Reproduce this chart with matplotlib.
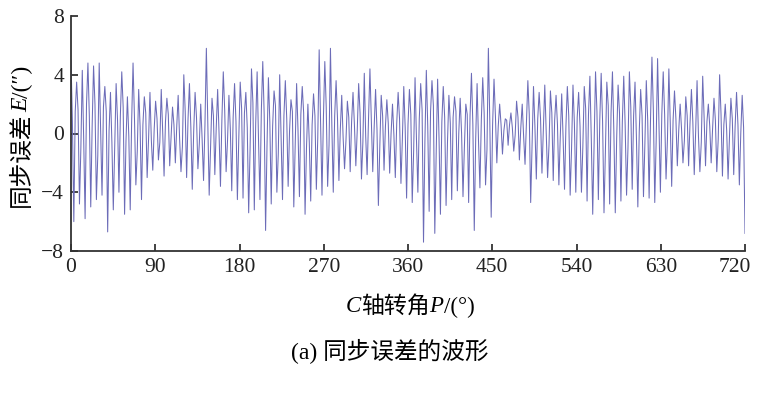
import numpy as np
import matplotlib
matplotlib.use("Agg")
import matplotlib.pyplot as plt
from matplotlib.transforms import ScaledTranslation

# peaks / troughs of each oscillation cycle, 8 segments of 90 deg
highs = [
    5.0, 3.5, 4.3, 4.8, 4.6, 4.8, 3.2, 2.8, 3.4, 4.2, 2.5, 4.8, 3.0, 2.5, 2.8,
    2.2, 3.0, 2.4, 1.8, 2.6, 4.0, 3.4, 2.8, 2.0, 5.8, 2.4, 3.0, 4.2, 2.6, 3.4,
    3.5, 2.8, 4.4, 4.2, 4.9, 3.8, 2.9, 4.0, 3.6, 2.3, 3.4, 3.2, 2.0, 2.7, 5.7,
    4.9, 5.8, 3.6, 2.6, 2.2, 2.8, 3.4, 4.1, 4.4, 3.0, 2.6, 2.3, 2.0, 2.8, 3.2,
    3.0, 3.8, 3.4, 4.3, 3.6, 3.7, 3.2, 2.6, 2.5, 2.4, 2.0, 4.1, 3.4, 3.8, 5.8,
    3.7, 2.0, 1.0, 1.4, 2.2, 2.0, 3.6, 3.2, 2.8, 3.3, 2.9, 2.6, 2.7, 3.2, 3.3,
    2.8, 3.2, 3.9, 4.2, 4.1, 3.5, 4.2, 3.3, 3.9, 4.2, 3.5, 3.0, 3.6, 5.2, 5.1,
    4.2, 4.4, 2.9, 2.0, 2.5, 3.0, 3.6, 3.9, 2.0, 2.4, 4.0, 2.0, 2.4, 2.8, 2.6,
]
lows = [
    -6.0, -4.8, -5.8, -5.0, -4.5, -4.2, -6.7, -5.2, -4.0, -5.5, -5.2, -3.5, -4.5, -3.0, -2.5,
    -1.8, -2.9, -2.2, -2.0, -2.6, -3.0, -3.8, -2.4, -3.2, -4.2, -2.8, -3.6, -2.6, -3.9, -4.5,
    -4.4, -5.4, -5.2, -4.5, -6.6, -4.8, -4.0, -4.5, -3.6, -5.0, -4.3, -5.5, -4.6, -3.8, -4.2,
    -3.6, -4.0, -3.2, -2.4, -2.6, -2.2, -3.1, -2.8, -2.6, -4.9, -2.5, -2.7, -3.0, -3.4, -4.4,
    -4.7, -4.0, -7.4, -5.3, -6.8, -5.5, -4.9, -4.5, -3.9, -4.3, -4.7, -6.6, -3.7, -3.5, -5.7,
    -2.0, -1.4, -0.8, -1.2, -1.8, -2.1, -4.7, -3.1, -2.7, -3.0, -3.2, -3.5, -3.8, -4.2, -4.0,
    -4.0, -4.6, -5.5, -4.5, -5.4, -4.8, -5.4, -4.6, -4.2, -3.8, -5.0, -4.3, -4.4, -4.7, -4.0,
    -3.1, -3.6, -2.2, -2.0, -2.2, -2.8, -2.6, -2.2, -2.0, -2.6, -2.9, -3.1, -2.8, -3.5, -6.8,
]
# small wiggle between a peak and the following trough
mids_down = [
    0.8, 1.6, -0.4, 1.2, 2.0, 0.3, 1.5, -0.6, 0.9, 1.8, -0.2, 1.1, 0.5, 1.4, -0.5,
    1.0, 0.2, 1.3, 0.6, -0.3, 1.5, 0.4, 1.1, -0.4, 0.9, 1.2, 0.0, 1.6, 0.3, 0.8,
    1.7, 0.4, 2.1, -0.5, 1.3, 0.8, 1.9, -0.2, 1.0, 1.5, 0.2, 1.4, -0.6, 1.2, 0.6,
    1.8, 0.5, 1.0, -0.3, 1.1, 0.6, 1.4, -0.2, 0.9, 0.3, 1.2, 0.7, -0.1, 1.0, 0.4,
    1.3, -0.4, 1.6, 0.5, 1.9, -0.3, 1.1, 0.7, 1.5, 0.0, 1.3, 0.6, -0.5, 1.4, 0.9,
    1.2, 0.6, 0.9, 0.4, 1.1, -0.2, 1.3, 0.5, 1.0, 0.2, 1.4, 0.6, -0.3, 1.2, 0.7,
    0.5, 1.7, -0.4, 1.5, 0.8, 1.9, 0.1, 1.4, 0.6, 1.8, -0.3, 1.2, 0.9, 1.6, 0.4,
    1.3, 0.7, 1.0, 0.3, 1.2, 0.8, -0.2, 1.1, 0.5, 0.9, 1.3, 0.2, 1.0, 0.6, 0.4,
]
# small rebound between a trough and the next peak
mids_up = [
    1.5, -1.0, 2.0, 0.5, -1.5, 1.8, 0.2, -0.8, 1.2, -0.5, 0.8, -1.2, 0.6, -0.4, 0.3,
    -0.6, 0.8, -0.2, 0.5, -0.9, 1.0, 0.1, -0.7, 0.6, -1.0, 0.4, 0.9, -0.5, 1.1, -0.3,
    1.4, -1.1, 0.7, 1.6, -0.9, 0.5, -1.4, 1.2, 0.2, -0.8, 1.3, -1.0, 0.6, -0.3, 1.0,
    -0.8, 1.2, 0.3, -0.5, 0.8, 0.2, -0.6, 1.0, 0.4, -0.9, 0.5, 0.0, 0.7, -0.4, 0.6,
    -1.2, 1.0, -0.5, 1.5, -1.3, 0.8, -0.6, 1.1, 0.0, -0.9, 1.2, -0.4, 0.9, -1.1, 0.6,
    0.5, 0.2, 0.6, -0.1, 0.4, 0.8, -0.6, 1.0, 0.3, -0.8, 0.9, -0.2, 0.5, -1.0, 1.1,
    -0.9, 1.3, -0.5, 0.9, -1.2, 1.4, -0.3, 0.8, -1.0, 1.2, 0.1, -0.7, 1.0, -0.5, 1.3,
    -0.4, 0.9, 0.2, -0.5, 0.7, 0.1, -0.6, 0.8, 0.3, -0.4, 0.6, -0.2, 0.5, 0.0, 0.4,
]
xticks = [0, 90, 180, 270, 360, 450, 540, 630, 720]
yticks = [-8, -4, 0, 4, 8]
ytick_labels = ['\u22128', '\u22124', '0', '4', '8']

# (text, italic?) pieces of the labels
ylabel_parts = [('同步误差', False), ('E', True), ('/(″)', False)]
xlabel_parts = [('C', True), ('轴转角', False), ('P', True), ('/(°)', False)]
caption = '(a) 同步误差的波形'

# one cycle = peak, wiggle, trough, rebound; last rebound dropped so the trace ends on the trough
err = np.column_stack([highs, mids_down, lows, mids_up]).ravel()[:-1]
angle = np.linspace(0, 720, len(err))

plt.rcParams['font.family'] = ['Liberation Serif', 'Noto Sans CJK SC']

W, H = 758, 398
fig = plt.figure(figsize=(W / 100, H / 100), dpi=100)
ax = fig.add_axes([71 / W, 1 - 251 / H, 674 / W, 235 / H])
ax.plot(angle, err, color='#6c6cb8', lw=0.75)

ax.set_xlim(0, 720)
ax.set_ylim(-8, 8)
ax.set_xticks(xticks)
ax.set_yticks(yticks)
ax.set_yticklabels(ytick_labels)
ax.tick_params(direction='in', length=5, width=1.2, labelsize=15.5, colors='#222222')
ax.tick_params(axis='x', pad=5)
ax.tick_params(axis='y', pad=5)
for s in ['top', 'right']:
    ax.spines[s].set_visible(False)
for s in ['left', 'bottom']:
    ax.spines[s].set_linewidth(1.3)
    ax.spines[s].set_color('#333333')

# keep the last x label inside the figure
last = ax.get_xticklabels()[-1]
last.set_transform(last.get_transform() + ScaledTranslation(-7 / 72, 0, fig.dpi_scale_trans))

renderer = fig.canvas.get_renderer()


def mixed_text(parts, cx, cy, size, vertical=False):
    # lay out pieces one after another, centred on (cx, cy) in pixels
    texts = []
    total = 0
    for s, it in parts:
        t = fig.text(0, 0, s, fontsize=size, fontstyle='italic' if it else 'normal',
                     rotation=90 if vertical else 0,
                     ha='center' if vertical else 'left',
                     va='bottom' if vertical else 'center')
        bb = t.get_window_extent(renderer)
        n = bb.height if vertical else bb.width
        texts.append((t, n))
        total += n
    pos = (cy if vertical else cx) - total / 2
    for t, n in texts:
        if vertical:
            t.set_position((cx / W, pos / H))
        else:
            t.set_position((pos / W, cy / H))
        pos += n


mixed_text(ylabel_parts, 22, H - 136, 17, vertical=True)
mixed_text(xlabel_parts, 410, H - 307, 16.5)
fig.text(390 / W, 1 - 352 / H, caption, fontsize=17, ha='center', va='center')

fig.savefig('out.png', dpi=100)
